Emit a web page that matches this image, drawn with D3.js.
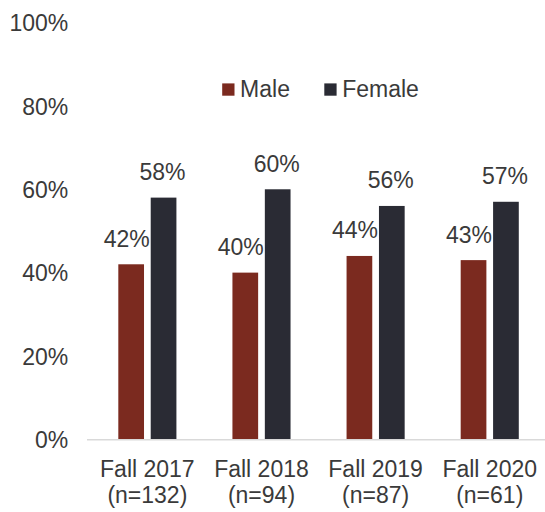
<!DOCTYPE html>
<html><head><meta charset="utf-8">
<script src="https://cdn.jsdelivr.net/npm/d3@7"></script>
<style>body{margin:0;background:#fff}svg{display:block}text{font-family:"Liberation Sans",Arial,sans-serif;fill:#3a3a3a}</style>
</head><body><svg id="c" width="545" height="512"></svg>
<script>
const categories = ["Fall 2017", "Fall 2018", "Fall 2019", "Fall 2020"];
const sampleSizes = ["(n=132)", "(n=94)", "(n=87)", "(n=61)"];
const seriesNames = ["Male", "Female"];
const maleValues = [0.42, 0.40, 0.44, 0.43];
const femaleValues = [0.58, 0.60, 0.56, 0.57];
const yTicks = [0, 0.2, 0.4, 0.6, 0.8, 1.0];
const colors = ["#7b2a1f", "#2a2b34"];

const svg = d3.select("#c");
const fs = 23;
const x = d3.scaleBand().domain(categories).range([90.3, 546.8]).paddingInner(0).paddingOuter(0);
const y = d3.scaleLinear().domain([0, 1]).range([439.3, 22.6]);
const barW = 25.7, gap = 6.7;

// y tick labels
const yAxis = d3.axisLeft(y).tickValues(yTicks).tickFormat(d3.format(".0%")).tickSize(0).tickPadding(0);
const ya = svg.append("g").attr("transform", "translate(68.3,0)").call(yAxis);
ya.select(".domain").remove();
ya.selectAll("text").attr("font-size", fs).attr("font-family", null).style("fill", "#3a3a3a").attr("dy", "0.35em");

const series = [maleValues, femaleValues];
series.forEach((vals, si) => {
  const g = svg.append("g");
  g.selectAll("rect").data(vals).join("rect")
    .attr("x", (d, i) => x(categories[i]) + x.bandwidth()/2 + (si === 0 ? -gap/2 - barW : gap/2))
    .attr("y", d => y(d))
    .attr("width", barW)
    .attr("height", d => y(0) - y(d))
    .attr("fill", colors[si]);
  g.selectAll("text").data(vals).join("text")
    .attr("x", (d, i) => x(categories[i]) + x.bandwidth()/2 + (si === 0 ? -gap/2 - barW/2 - 4.5 : gap/2 + barW/2 - 1))
    .attr("y", d => y(d) - 17.5)
    .attr("text-anchor", "middle")
    .attr("font-size", fs)
    .text(d => d3.format(".0%")(d));
});

// x axis
const xa = svg.append("g").attr("transform", `translate(0,${y(0)})`)
  .call(d3.axisBottom(x).tickSize(0).tickFormat(""));
xa.select(".domain").attr("d", `M87,0.5H545`).attr("stroke", "#d9d9d9").attr("stroke-width", 1.6);
xa.selectAll(".tick text").remove();
const xl = svg.append("g");
categories.forEach((c, i) => {
  const cx = x(c) + x.bandwidth()/2;
  const t = xl.append("text").attr("text-anchor", "middle").attr("font-size", fs);
  t.append("tspan").attr("x", cx).attr("y", 476.7).text(c);
  t.append("tspan").attr("x", cx).attr("y", 502.8).text(sampleSizes[i]);
});

// legend
const legX = [222.2, 324.3];
seriesNames.forEach((n, i) => {
  svg.append("rect").attr("x", legX[i]).attr("y", 83.4).attr("width", 12.3).attr("height", 12.3).attr("fill", colors[i]);
  svg.append("text").attr("x", legX[i] + 17.9).attr("y", 96.7).attr("font-size", fs).text(n);
});
</script></body></html>
